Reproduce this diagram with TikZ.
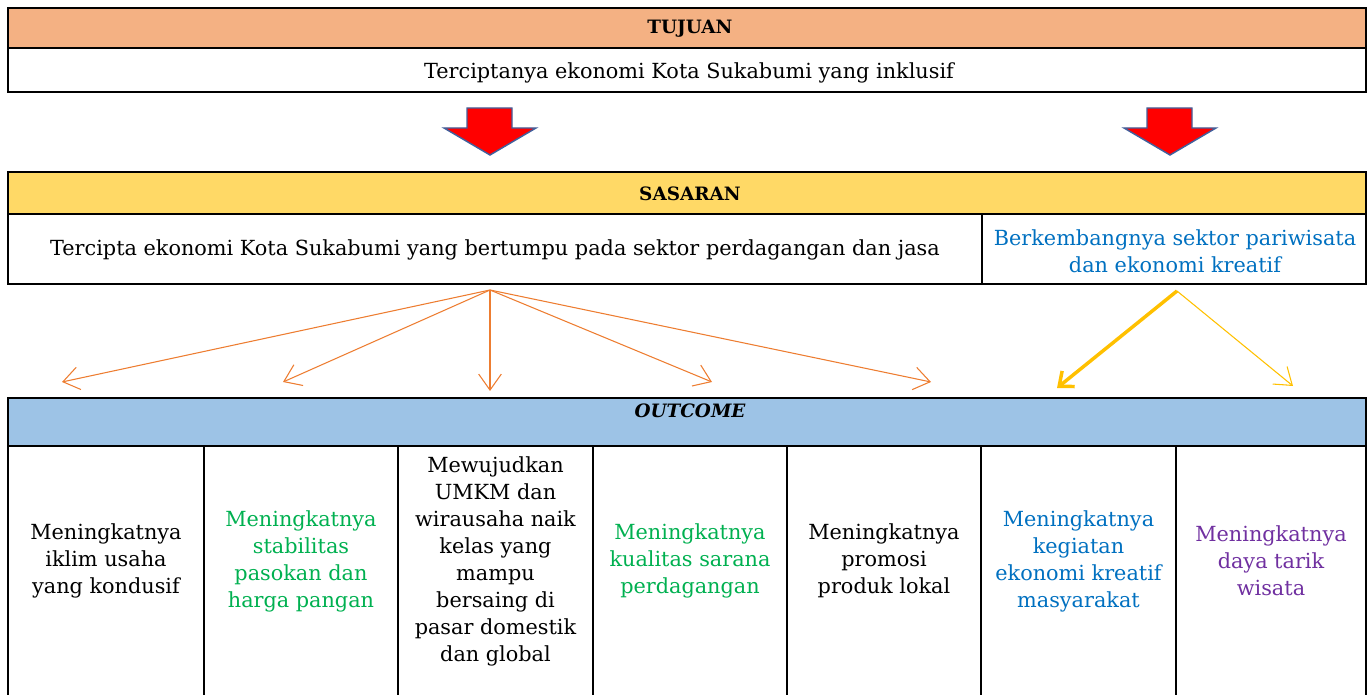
\documentclass[tikz,border=0pt]{standalone}
\usepackage{fontspec}
\setmainfont{DejaVu Serif}
\usetikzlibrary{arrows.meta}
\definecolor{tujuanc}{HTML}{F4B183}
\definecolor{sasaranc}{HTML}{FFD966}
\definecolor{outcomec}{HTML}{9DC3E6}
\definecolor{greenc}{HTML}{00B050}
\definecolor{bluec}{HTML}{0070C0}
\definecolor{purplec}{HTML}{7030A0}
\definecolor{orangec}{HTML}{ED7D31}
\definecolor{yellowc}{HTML}{FFC000}
\definecolor{arrowedge}{HTML}{41609C}
\tikzset{
  frame/.style={draw=black,line width=1.6pt},
  txt/.style={align=center,inner sep=0pt,font=\fontsize{15.6pt}{20.25pt}\selectfont},
  head/.style={inner sep=0pt,font=\fontsize{13.8pt}{16pt}\selectfont\bfseries},
  redarrow/.style={fill=red,draw=arrowedge,line width=1.1pt,line join=miter},
  orangearrow/.style={draw=orangec,line width=0.8pt,-{Straight Barb[length=12pt,width=17pt]}},
  yellowthin/.style={draw=yellowc,line width=0.8pt,-{Straight Barb[length=12pt,width=17pt]}},
  yellowthick/.style={draw=yellowc,line width=2.6pt,-{Straight Barb[length=9pt,width=15pt]}},
}
\begin{document}
\begin{tikzpicture}[x=0.75pt,y=-0.75pt]
\useasboundingbox (0,0) rectangle (1372,695);
% TUJUAN
\fill[tujuanc] (8,8) rectangle (1366,48);
\draw[frame] (8,8) rectangle (1366,92);
\draw[frame] (8,48) -- (1366,48);
\node[head] (tujuanh) at (690,29) {TUJUAN};
\node[txt] (tujuant) at (689,73) {Terciptanya ekonomi Kota Sukabumi yang inklusif};
% red block arrows
\draw[redarrow] (467,108) -- (512,108) -- (512,128) -- (536,128) -- (490,155) -- (444,128) -- (467,128) -- cycle;
\draw[redarrow] (1147,108) -- (1192,108) -- (1192,128) -- (1216,128) -- (1170,155) -- (1124,128) -- (1147,128) -- cycle;
% SASARAN
\fill[sasaranc] (8,172) rectangle (1366,214);
\draw[frame] (8,172) rectangle (1366,284);
\draw[frame] (8,214) -- (1366,214);
\draw[frame] (982,214) -- (982,284);
\node[head] (sasaranh) at (690,194) {SASARAN};
\node[txt] (sas1) at (495,250) {Tercipta ekonomi Kota Sukabumi yang bertumpu pada sektor perdagangan dan jasa};
\node[txt,text=bluec] (sas2) at (1175,251) {Berkembangnya sektor pariwisata\\dan ekonomi kreatif};
% OUTCOME
\fill[outcomec] (8,398) rectangle (1366,446);
\draw[frame] (8,696) -- (8,398) -- (1366,398) -- (1366,696);
\draw[frame] (8,446) -- (1366,446);
\foreach \x in {204,398,593,787,981,1176} \draw[frame] (\x,446) -- (\x,696);
\node[head,font=\fontsize{13.8pt}{16pt}\selectfont\bfseries\itshape] (outh) at (690,411) {OUTCOME};
\node[txt] (o1) at (106,561) {Meningkatnya\\iklim usaha\\yang kondusif};
\node[txt,text=greenc] (o2) at (301,561) {Meningkatnya\\stabilitas\\pasokan dan\\harga pangan};
\node[txt] (o3) at (495.5,561) {Mewujudkan\\UMKM dan\\wirausaha naik\\kelas yang\\mampu\\bersaing di\\pasar domestik\\dan global};
\node[txt,text=greenc] (o4) at (690,561) {Meningkatnya\\kualitas sarana\\perdagangan};
\node[txt] (o5) at (884,561) {Meningkatnya\\promosi\\produk lokal};
\node[txt,text=bluec] (o6) at (1078.5,561) {Meningkatnya\\kegiatan\\ekonomi kreatif\\masyarakat};
\node[txt,text=purplec] (o7) at (1271,561) {Meningkatnya\\daya tarik\\wisata};
% connectors
\coordinate (src1) at (490,290);
\coordinate (t1) at (62,382);
\coordinate (t2) at (283,382);
\coordinate (t3) at (490,391);
\coordinate (t4) at (712,382);
\coordinate (t5) at (931,382);
\foreach \t in {t1,t2,t3,t4,t5} \draw[orangearrow] (src1) -- (\t);
\coordinate (src2) at (1177,291);
\coordinate (t6) at (1057,388);
\coordinate (t7) at (1293,386);
\draw[yellowthick] (src2) -- (t6);
\draw[yellowthin] (src2) -- (t7);
\end{tikzpicture}
\end{document}
